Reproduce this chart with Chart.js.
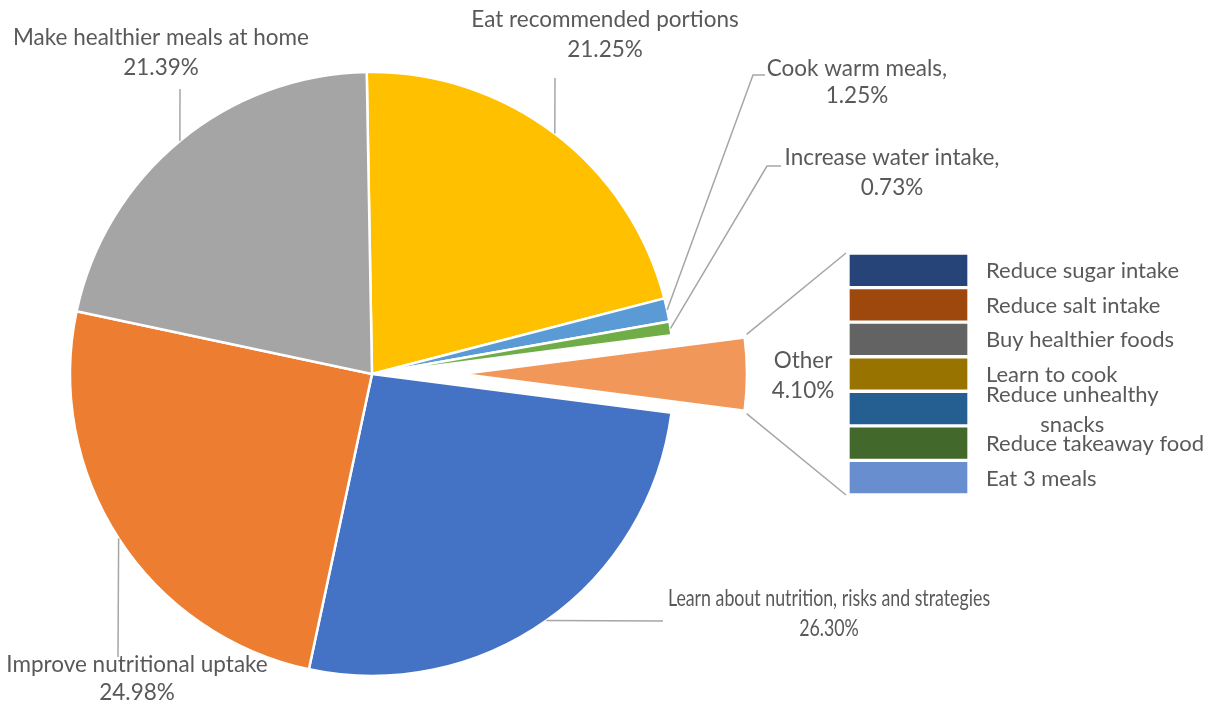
<!DOCTYPE html>
<html>
<head>
<meta charset="utf-8">
<script src="https://cdn.jsdelivr.net/npm/chart.js@4.4.1/dist/chart.umd.min.js"></script>
<style>
  body { margin: 0; background: #fff; }
  #wrap { position: relative; width: 1214px; height: 707px; }
  #wrap canvas { position: absolute; left: 0; top: 0; }
</style>
</head>
<body>
<div id="wrap">
  <canvas id="pie" width="1214" height="707"></canvas>
  <canvas id="bar" width="1214" height="707"></canvas>
</div>
<script>
const sliceLabels = [
  'Eat recommended portions',
  'Cook warm meals',
  'Increase water intake',
  'Other',
  'Learn about nutrition, risks and strategies',
  'Improve nutritional uptake',
  'Make healthier meals at home'
];
const sliceValues = [21.25, 1.25, 0.73, 4.10, 26.30, 24.98, 21.39];
const sliceColors = ['#FFC000', '#5B9BD5', '#70AD47', '#F1975A', '#4472C4', '#ED7D31', '#A5A5A5'];

// the "Other" slice broken out into the bar (top to bottom)
const otherLabels = [
  'Reduce sugar intake',
  'Reduce salt intake',
  'Buy healthier foods',
  'Learn to cook',
  ['Reduce unhealthy', 'snacks'],
  'Reduce takeaway food',
  'Eat 3 meals'
];
const otherValues = [0.59, 0.59, 0.59, 0.59, 0.59, 0.59, 0.59];
const otherColors = ['#264478', '#9E480E', '#636363', '#997300', '#255E91', '#43682B', '#698ED0'];

const OTHER = 3;
const textColor = '#595959';
const leaderColor = '#A6A6A6';
const pieFont = '22.5px Lato';
const barFont = '22px Lato';

// data label placement: centre x, baselines, optional horizontal squeeze, and the bends of the leader line
const labelLayout = [
  { sep: '', x: 605, y: [27, 57], path: [[555, 78]] },
  { sep: ',', x: 857, y: [76, 103], path: [[765, 75], [753, 75]] },
  { sep: ',', x: 892, y: [165, 195], path: [[781, 166], [767, 166]] },
  { sep: '', x: 803, y: [368, 398], path: null },
  { sep: '', x: 829, y: [606, 636], squeeze: 0.79, path: [[663, 621]] },
  { sep: '', x: 137, y: [672, 700], path: [[118, 657]] },
  { sep: '', x: 161, y: [45, 75], path: [[180, 89]] }
];

function arcPoint(arc, angle, r) {
  return [arc.x + Math.cos(angle) * r, arc.y + Math.sin(angle) * r];
}

// pull the Other slice out towards the bar, slightly smaller like Excel does
const explodeOther = {
  id: 'explodeOther',
  afterDatasetsUpdate(chart) {
    const arc = chart.getDatasetMeta(0).data[OTHER];
    const mid = (arc.startAngle + arc.endAngle) / 2;
    arc.x += Math.cos(mid) * 90;
    arc.y += Math.sin(mid) * 90;
    arc.outerRadius = 285;
  }
};

function drawText(ctx, text, x, y, squeeze) {
  if (squeeze) {
    ctx.fillText(text, x, y, ctx.measureText(text).width * squeeze);
  } else {
    ctx.fillText(text, x, y);
  }
}

const pieLabels = {
  id: 'pieLabels',
  afterDraw(chart) {
    const ctx = chart.ctx;
    const arcs = chart.getDatasetMeta(0).data;
    ctx.save();
    ctx.strokeStyle = leaderColor;
    ctx.lineWidth = 1.5;
    labelLayout.forEach((l, i) => {
      if (!l.path) return;
      const arc = arcs[i];
      const end = arcPoint(arc, (arc.startAngle + arc.endAngle) / 2, arc.outerRadius);
      ctx.beginPath();
      ctx.moveTo(l.path[0][0], l.path[0][1]);
      l.path.slice(1).forEach(p => ctx.lineTo(p[0], p[1]));
      ctx.lineTo(end[0], end[1]);
      ctx.stroke();
    });
    ctx.fillStyle = textColor;
    ctx.font = pieFont;
    ctx.textAlign = 'center';
    ctx.textBaseline = 'alphabetic';
    labelLayout.forEach((l, i) => {
      drawText(ctx, sliceLabels[i] + l.sep, l.x, l.y[0], l.squeeze);
      drawText(ctx, sliceValues[i].toFixed(2) + '%', l.x, l.y[1], l.squeeze);
    });
    ctx.restore();
  }
};

const pieChart = new Chart(document.getElementById('pie'), {
  type: 'pie',
  data: {
    labels: sliceLabels,
    datasets: [{
      data: sliceValues,
      backgroundColor: sliceColors,
      borderColor: '#ffffff',
      borderWidth: 2.5,
      hoverOffset: 0
    }]
  },
  options: {
    responsive: false,
    animation: false,
    events: [],
    rotation: -1,
    radius: 302,
    layout: { padding: { left: 0, right: 470, top: 41, bottom: 0 } },
    plugins: { legend: { display: false }, tooltip: { enabled: false } }
  },
  plugins: [explodeOther, pieLabels]
});

const otherTotal = otherValues.reduce((a, b) => a + b, 0);

const barDecor = {
  id: 'barDecor',
  afterDraw(chart) {
    const ctx = chart.ctx;
    const n = chart.data.datasets.length;
    const topBar = chart.getDatasetMeta(n - 1).data[0];
    const bottomBar = chart.getDatasetMeta(0).data[0];
    const left = topBar.x - topBar.width / 2;
    const arc = pieChart.getDatasetMeta(0).data[OTHER];
    const a = arcPoint(arc, arc.startAngle, arc.outerRadius);
    const b = arcPoint(arc, arc.endAngle, arc.outerRadius);
    ctx.save();
    ctx.strokeStyle = leaderColor;
    ctx.lineWidth = 1.5;
    ctx.beginPath();
    ctx.moveTo(a[0] + 2, a[1] - 3);
    ctx.lineTo(left - 2, topBar.y);
    ctx.moveTo(b[0] + 2, b[1] + 3);
    ctx.lineTo(left - 2, bottomBar.base);
    ctx.stroke();

    ctx.fillStyle = textColor;
    ctx.font = barFont;
    ctx.textAlign = 'center';
    ctx.textBaseline = 'alphabetic';
    const textLeft = topBar.x + topBar.width / 2 + 17;
    for (let d = 0; d < n; d++) {
      const el = chart.getDatasetMeta(d).data[0];
      const lab = chart.data.datasets[d].label;
      const lines = Array.isArray(lab) ? lab : [lab];
      const w = Math.max(...lines.map(t => ctx.measureText(t).width));
      const cy = (el.y + el.base) / 2;
      lines.forEach((t, k) => {
        const y = cy + 8 + (k - (lines.length - 1) / 2) * 30;
        ctx.fillText(t, textLeft + w / 2, y);
      });
    }
    ctx.restore();
  }
};

const barChart = new Chart(document.getElementById('bar'), {
  type: 'bar',
  data: {
    labels: ['Other'],
    datasets: otherLabels.map((label, i) => ({
      label: label,
      data: [otherValues[i]],
      backgroundColor: otherColors[i]
    })).reverse()
  },
  options: {
    responsive: false,
    animation: false,
    events: [],
    layout: { padding: { left: 848, right: 245, top: 253, bottom: 212 } },
    datasets: {
      bar: {
        categoryPercentage: 1,
        barPercentage: 1,
        borderColor: '#ffffff',
        borderWidth: 2,
        borderSkipped: false
      }
    },
    scales: {
      x: { display: false, stacked: true },
      y: { display: false, stacked: true, min: 0, max: otherTotal }
    },
    plugins: { legend: { display: false }, tooltip: { enabled: false } }
  },
  plugins: [barDecor]
});
</script>
</body>
</html>
